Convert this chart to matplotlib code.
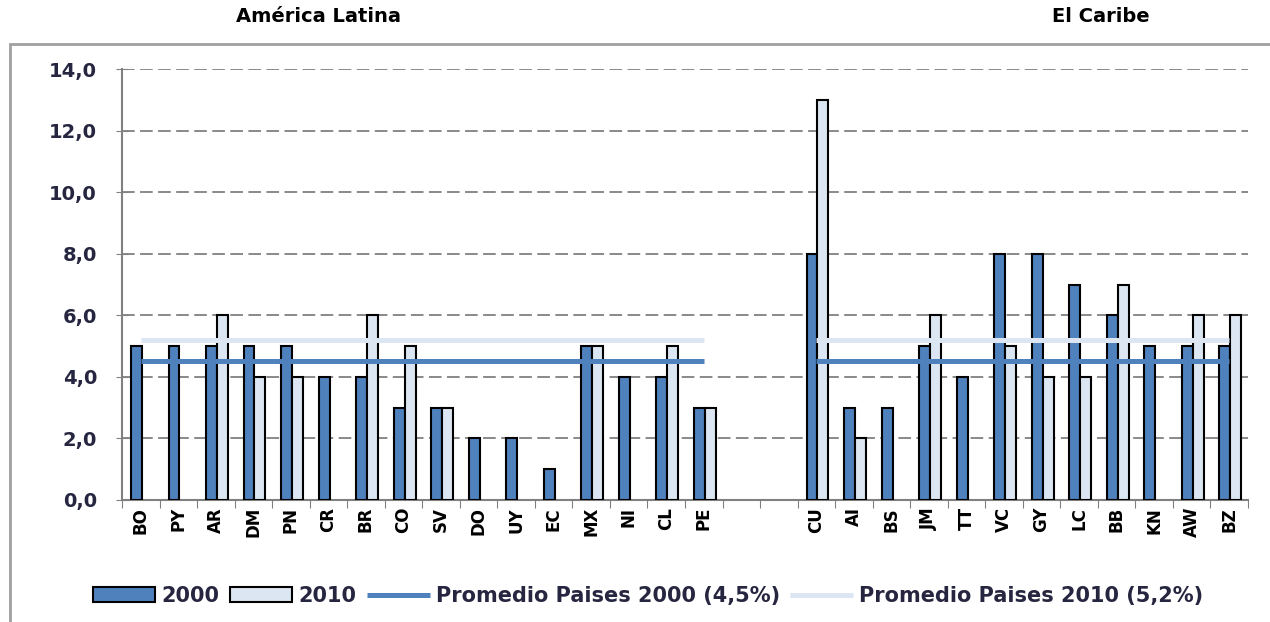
import numpy as np
import matplotlib
matplotlib.use("Agg")
import matplotlib.pyplot as plt
from matplotlib.patches import Rectangle

# ------------------------
# Data
# ------------------------
la_countries = ["BO", "PY", "AR", "DM", "PN", "CR", "BR", "CO",
                "SV", "DO", "UY", "EC", "MX", "NI", "CL", "PE"]
la_2000 = [5, 5, 5, 5, 5, 4, 4, 3, 3, 2, 2, 1, 5, 4, 4, 3]
la_2010 = [0, 0, 6, 4, 4, 0, 6, 5, 3, 0, 0, 0, 5, 0, 5, 3]

car_countries = ["CU", "AI", "BS", "JM", "TT", "VC", "GY", "LC", "BB", "KN", "AW", "BZ"]
car_2000 = [8, 3, 3, 5, 4, 8, 8, 7, 6, 5, 5, 5]
car_2010 = [13, 2, 0, 6, 0, 5, 4, 4, 7, 0, 6, 6]

avg_2000 = 4.5
avg_2010 = 5.2
gap_slots = 2

titles = ["América Latina", "El Caribe"]
legend_labels = ["2000", "2010", "Promedio Paises 2000 (4,5%)", "Promedio Paises 2010 (5,2%)"]

# ------------------------
# Layout of categories
# ------------------------
labels = la_countries + [""] * gap_slots + car_countries
v2000 = np.array(la_2000 + [0] * gap_slots + car_2000, dtype=float)
v2010 = np.array(la_2010 + [0] * gap_slots + car_2010, dtype=float)
v2000[v2000 == 0] = np.nan
v2010[v2010 == 0] = np.nan
pos = np.arange(len(labels))

# average lines (separate per group, blank over the gap)
line2000 = np.array([avg_2000] * len(la_countries) + [np.nan] * gap_slots + [avg_2000] * len(car_countries))
line2010 = np.array([avg_2010] * len(la_countries) + [np.nan] * gap_slots + [avg_2010] * len(car_countries))

dark = "#4F81BD"
light = "#DCE6F2"
txt = "#262640"

plt.rcParams["font.family"] = "DejaVu Sans"

fig = plt.figure(figsize=(12.7, 6.22), dpi=100)
ax = fig.add_axes([122 / 1270, 1 - 500 / 622, (1248 - 122) / 1270, (500 - 69) / 622])

w = 0.29
b1 = ax.bar(pos + 0.24, v2000, width=w, align="edge", color=dark, edgecolor="black", linewidth=1.5, zorder=3)
b2 = ax.bar(pos + 0.24 + w, v2010, width=w, align="edge", color=light, edgecolor="black", linewidth=1.5, zorder=3)
l1, = ax.plot(pos + 0.5, line2000, color=dark, linewidth=3.6, zorder=5, solid_capstyle="butt")
l2, = ax.plot(pos + 0.5, line2010, color=light, linewidth=3.6, zorder=4, solid_capstyle="butt")

ax.set_xlim(0, len(labels))
ax.set_ylim(0, 14)
ax.set_yticks(np.arange(0, 15, 2))
ax.set_yticklabels([f"{v:.1f}".replace(".", ",") for v in np.arange(0, 15, 2)],
                   fontsize=14, fontweight="bold", color=txt)
ax.tick_params(axis="y", length=8, direction="inout", color="#808080", pad=14)

ax.set_xticks(np.arange(0, len(labels) + 1))
ax.set_xticklabels([])
ax.set_xticks(pos + 0.5, minor=True)
ax.set_xticklabels(labels, minor=True, rotation=90, fontsize=12, fontweight="bold", color="black")
ax.tick_params(axis="x", which="major", length=6, color="#808080")
ax.tick_params(axis="x", which="minor", length=0, pad=5)

ax.yaxis.grid(True, linestyle=(0, (7, 3)), color="#808080", linewidth=1.3)
ax.set_axisbelow(True)
for s in ["top", "right"]:
    ax.spines[s].set_visible(False)
for s in ["left", "bottom"]:
    ax.spines[s].set_color("#808080")
    ax.spines[s].set_linewidth(1.5)

# group titles
fig.text(318 / 1270, 1 - 17 / 622, titles[0], ha="center", va="center", fontsize=14, fontweight="bold")
fig.text(1101 / 1270, 1 - 17 / 622, titles[1], ha="center", va="center", fontsize=14, fontweight="bold")

# chart border (right and bottom edges fall outside the picture)
fig.patches.append(Rectangle((10 / 1270, -0.2), 1.2, 1.2 - 44 / 622,
                             transform=fig.transFigure, fill=False,
                             edgecolor="#A0A0A0", linewidth=2))

leg = fig.legend([b1, b2, l1, l2], legend_labels, loc="center",
                 bbox_to_anchor=(648 / 1270, 1 - 596 / 622), ncol=4, frameon=False,
                 handlelength=3.0, handletextpad=0.3, columnspacing=0.5,
                 prop={"size": 15, "weight": "bold"})
for t in leg.get_texts():
    t.set_color(txt)

fig.savefig("out.png", dpi=100)
